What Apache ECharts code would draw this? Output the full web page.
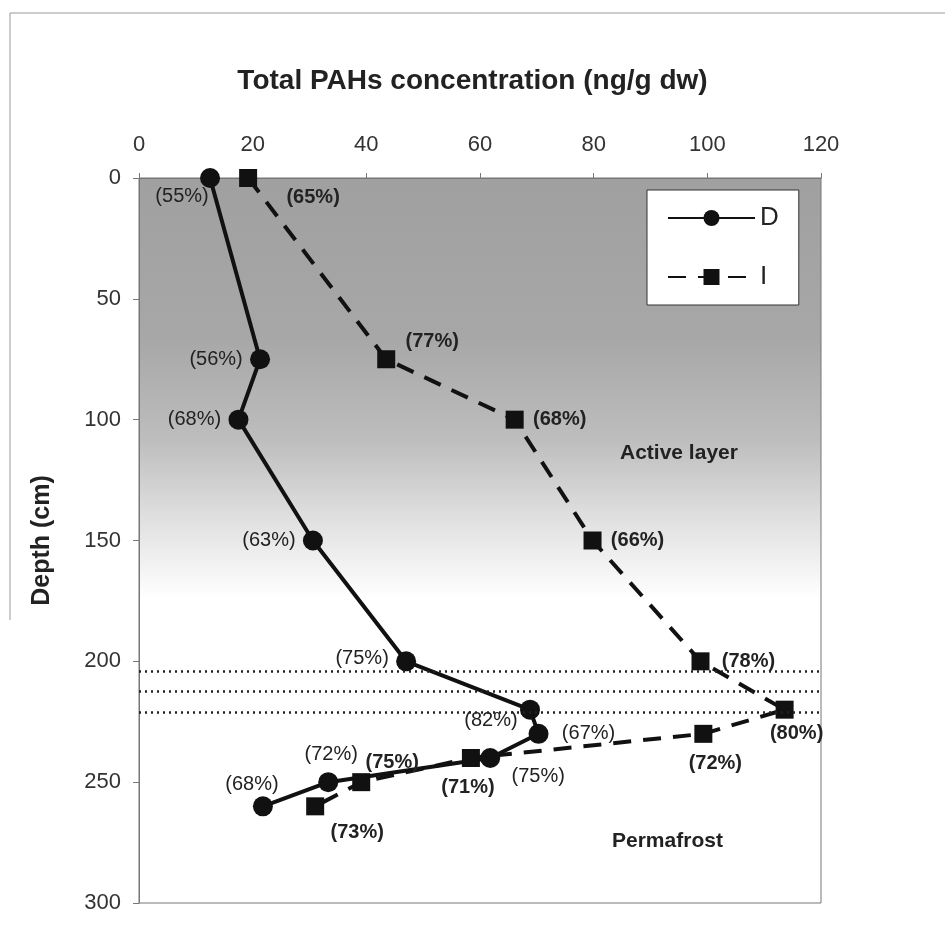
<!DOCTYPE html>
<html style="height: 100%">
    <head>
        <meta charset="utf-8">
    </head>
    <body style="height: 100%; margin: 0; background: #fff">
        <div id="container" style="width: 945px; height: 933px"></div>
        <script type="text/javascript" src="https://cdn.jsdelivr.net/npm/echarts@6/dist/echarts.min.js"></script>
        <script type="text/javascript">
    // depth of each sample (cm)
    var depth = [0, 75, 100, 150, 200, 220, 230, 240, 250, 260];
    // total PAHs (ng/g dw)
    var dValues = [12.5, 21.3, 17.5, 30.6, 47, 68.8, 70.3, 61.8, 33.3, 21.8];
    var iValues = [19.2, 43.5, 66.1, 79.8, 98.8, 113.6, 99.3, 58.4, 39.1, 31];
    // percentages written next to the points
    var dPct = ['(55%)', '(56%)', '(68%)', '(63%)', '(75%)', '(82%)', '(67%)', '(75%)', '(72%)', '(68%)'];
    var iPct = ['(65%)', '(77%)', '(68%)', '(66%)', '(78%)', '(80%)', '(72%)', '(71%)', '(75%)', '(73%)'];
    // layer boundaries (dotted lines)
    var boundaries = [204, 212.5, 221];

    // where each label sits relative to its point
    var dLabelOffset = [[-28, 18], [-44, 0], [-44, 0], [-44, 0], [-44, -3], [-39, 11], [50, 0], [48, 18], [3, -28], [-11, -22]];
    var iLabelOffset = [[65, 19], [46, -18], [45, 0], [45, 0], [48, 0], [12, 24], [12, 30], [-3, 29], [31, -20], [42, 26]];

    var dom = document.getElementById("container");
    var myChart = echarts.init(dom);
    var option;

    function buildData(vals, pct, offs) {
        var out = [];
        for (var i = 0; i < vals.length; i++) {
            out.push({
                value: [vals[i], depth[i]],
                label: {
                    show: true,
                    formatter: pct[i],
                    position: 'inside',
                    offset: offs[i]
                }
            });
        }
        return out;
    }

    var markLines = [];
    for (var i = 0; i < boundaries.length; i++) {
        markLines.push({ yAxis: boundaries[i] });
    }

    option = {
        animation: false,
        textStyle: { fontFamily: 'Liberation Sans, Arial, sans-serif' },
        title: {
            text: 'Total PAHs concentration (ng/g dw)',
            left: 'center',
            top: 62,
            textStyle: {
                fontSize: 28,
                fontWeight: 'bold',
                color: '#222',
                fontFamily: 'Liberation Sans, Arial, sans-serif'
            }
        },
        grid: {
            left: 139,
            top: 178,
            right: 124,
            bottom: 30,
            show: true,
            borderColor: '#777',
            borderWidth: 1,
            backgroundColor: new echarts.graphic.LinearGradient(0, 0, 0, 1, [
                { offset: 0, color: '#a0a0a0' },
                { offset: 0.22, color: '#a7a7a7' },
                { offset: 0.36, color: '#bdbdbd' },
                { offset: 0.47, color: '#e0e0e0' },
                { offset: 0.58, color: '#ffffff' },
                { offset: 1, color: '#ffffff' }
            ])
        },
        legend: {
            data: ['D', 'I'],
            orient: 'vertical',
            left: 647,
            top: 190,
            width: 149,
            padding: [15, 20, 15, 20],
            itemWidth: 87,
            itemHeight: 20,
            itemGap: 33,
            backgroundColor: '#fff',
            borderColor: '#333',
            borderWidth: 1,
            textStyle: { fontSize: 26, color: '#222' }
        },
        xAxis: {
            type: 'value',
            position: 'top',
            min: 0,
            max: 120,
            interval: 20,
            splitLine: { show: false },
            axisLine: { show: true, lineStyle: { color: '#777', width: 1 } },
            axisTick: { show: true, inside: false, length: 5, lineStyle: { color: '#777' } },
            axisLabel: { fontSize: 22, color: '#333', margin: 22 }
        },
        yAxis: {
            type: 'value',
            inverse: true,
            min: 0,
            max: 300,
            interval: 50,
            name: 'Depth (cm)',
            nameLocation: 'middle',
            nameRotate: 90,
            nameGap: 84,
            nameTextStyle: { fontSize: 25, fontWeight: 'bold', color: '#222' },
            splitLine: { show: false },
            axisLine: { show: true, lineStyle: { color: '#777', width: 1 } },
            axisTick: { show: true, length: 6, lineStyle: { color: '#777' } },
            axisLabel: { fontSize: 22, color: '#333', margin: 18 }
        },
        graphic: [
            { type: 'line', shape: { x1: 10, y1: 13, x2: 945, y2: 13 }, style: { stroke: '#999', lineWidth: 1 } },
            { type: 'line', shape: { x1: 10, y1: 13, x2: 10, y2: 620 }, style: { stroke: '#999', lineWidth: 1 } },
            { type: 'text', left: 620, top: 443, style: { text: 'Active layer', fontSize: 21, fontWeight: 'bold', fill: '#222', fontFamily: 'Liberation Sans, Arial, sans-serif' } },
            { type: 'text', left: 612, top: 831, style: { text: 'Permafrost', fontSize: 21, fontWeight: 'bold', fill: '#222', fontFamily: 'Liberation Sans, Arial, sans-serif' } }
        ],
        series: [
            {
                name: 'D',
                type: 'line',
                data: buildData(dValues, dPct, dLabelOffset),
                symbol: 'circle',
                symbolSize: 20,
                itemStyle: { color: '#111' },
                lineStyle: { color: '#111', width: 4 },
                label: { fontSize: 20, color: '#222' },
                z: 3,
                markLine: {
                    silent: true,
                    symbol: 'none',
                    label: { show: false },
                    lineStyle: { color: '#222', type: [2, 4], width: 2.5 },
                    data: markLines
                }
            },
            {
                name: 'I',
                type: 'line',
                data: buildData(iValues, iPct, iLabelOffset),
                symbol: 'rect',
                symbolSize: 18,
                itemStyle: { color: '#111' },
                lineStyle: { color: '#111', width: 4, type: [18, 12] },
                label: { fontSize: 20, color: '#222', fontWeight: 'bold' },
                z: 3
            }
        ]
    };

    if (option && typeof option === 'object') {
        myChart.setOption(option);
    }
        </script>
    </body>
</html>
